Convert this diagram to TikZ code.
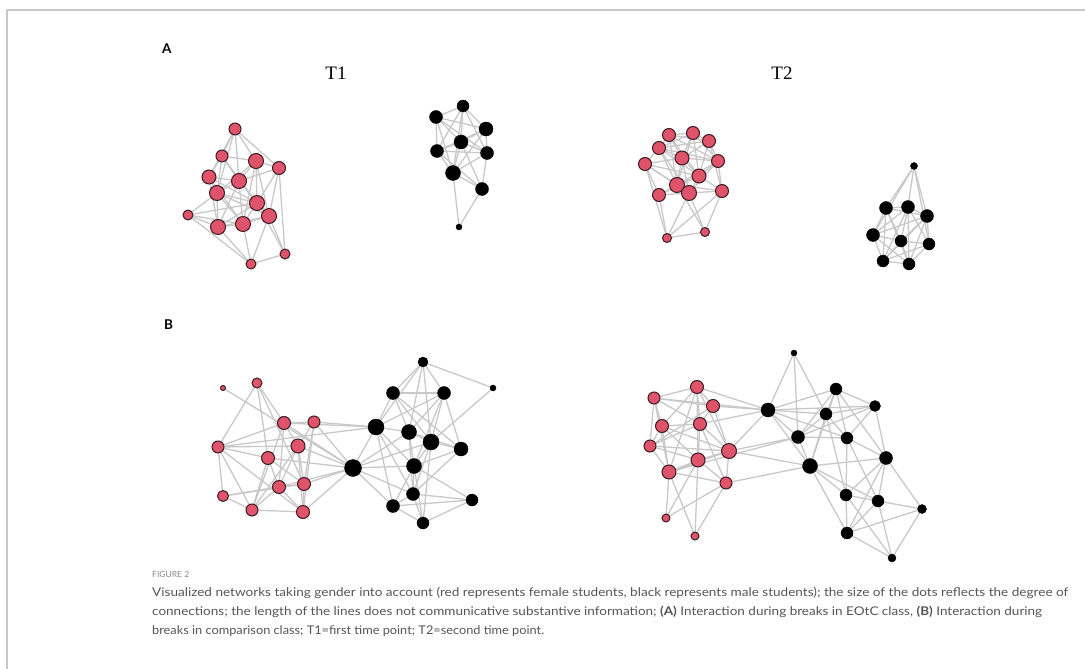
\documentclass[tikz,border=0pt]{standalone}
\usepackage{fontspec}
\setmainfont{Liberation Serif}
\newfontfamily\capfont{Lato}
\usetikzlibrary{backgrounds}
\definecolor{femred}{HTML}{DF536B}
\definecolor{femrim}{HTML}{3A1C22}
\definecolor{linkgray}{HTML}{C8C8C8}
\definecolor{framegray}{HTML}{C8C8C8}
\definecolor{captext}{HTML}{555555}
\definecolor{caphead}{HTML}{8A8A8A}
\tikzset{
  fem/.style={circle, fill=femred, draw=femrim, line width=1pt, inner sep=0pt},
  mal/.style={circle, fill=black, draw=black, line width=0.4pt, inner sep=0pt},
  link/.style={draw=linkgray, line width=1.3pt},
  panel/.style={font=\capfont\bfseries\fontsize{13.5}{16}\selectfont, anchor=base west, inner sep=0pt},
  stamp/.style={font=\fontsize{19}{22}\selectfont, anchor=base, inner sep=0pt},
  capline/.style={anchor=base west, inner sep=0pt, text=captext, font=\capfont\fontsize{12}{14}\selectfont},
  caphd/.style={anchor=base west, inner sep=0pt, text=caphead, font=\capfont\fontsize{8.5}{10}\selectfont}
}
\begin{document}
\begin{tikzpicture}[x=1pt,y=-1pt]
\useasboundingbox (0,0) rectangle (1085,669);
% frame
\draw[framegray, line width=1.2pt] (7,669) -- (7,10) -- (1085,10);

% ---------- panel A, T1 ----------
\foreach \n/\x/\y/\d in {a1/235/129/12, a2/222/156/12, a3/256/161/15, a4/279/168/13, a5/209/177/14,
  a6/239/181/15, a7/217/193/15, a8/257/203/15, a9/188/215/10, a10/269/216/15, a11/218/227/15,
  a12/243/224/15, a13/285/254/10, a14/251/264/10}
  \node[fem, minimum size=\d pt] (\n) at (\x,\y) {};
\foreach \n/\x/\y/\d in {b1/463/106/12, b2/436/117/13, b3/486/129/14, b4/461/142/14, b5/437/151/13,
  b6/487/153/13, b7/453/173/15, b8/482/189/13, b9/459/227/6}
  \node[mal, minimum size=\d pt] (\n) at (\x,\y) {};

% ---------- panel A, T2 ----------
\foreach \n/\x/\y/\d in {c1/669/135/13, c2/693/133/13, c3/709/141/13, c4/659/148/13, c5/682/158/14,
  c6/718/161/13, c7/645/164/13, c8/699/176/14, c9/677/185/15, c10/659/195/13, c11/689/193/15,
  c12/722/191/13, c13/667/238/9, c14/705/232/9}
  \node[fem, minimum size=\d pt] (\n) at (\x,\y) {};
\foreach \n/\x/\y/\d in {d1/914/166/7, d2/886/208/13, d3/908/207/13, d4/927/216/13, d5/873/235/13,
  d6/901/241/12, d7/929/244/12, d8/883/261/12, d9/909/264/12}
  \node[mal, minimum size=\d pt] (\n) at (\x,\y) {};

% ---------- panel B, left ----------
\foreach \n/\x/\y/\d in {e1/223/388/5, e2/257/383/10, e3/284/423/13, e4/314/422/12, e5/218/447/12,
  e6/298/446/14, e7/268/458/13, e8/279/487/13, e9/304/484/13, e10/223/496/11, e11/252/510/12,
  e12/303/512/13}
  \node[fem, minimum size=\d pt] (\n) at (\x,\y) {};
\foreach \n/\x/\y/\d in {f1/423/362/10, f2/493/388/6, f3/393/393/13, f4/444/393/13, f5/376/427/16,
  f6/409/432/15, f7/431/442/16, f8/461/449/14, f9/353/468/17, f10/414/466/15, f11/413/494/13,
  f12/472/500/12, f13/393/506/13, f14/423/523/12}
  \node[mal, minimum size=\d pt] (\n) at (\x,\y) {};

% ---------- panel B, right ----------
\foreach \n/\x/\y/\d in {g1/697/387/13, g2/654/398/12, g3/713/406/13, g4/662/426/13, g5/700/424/13,
  g6/650/446/12, g7/729/451/15, g8/698/460/14, g9/669/472/14, g10/726/483/12, g11/666/518/8,
  g12/695/536/8}
  \node[fem, minimum size=\d pt] (\n) at (\x,\y) {};
\foreach \n/\x/\y/\d in {h1/794/353/6, h2/768/410/14, h3/836/389/12, h4/875/406/11, h5/826/414/12,
  h6/798/437/13, h7/847/438/12, h8/886/458/13, h9/810/466/15, h10/846/495/12, h11/878/501/12,
  h12/922/509/9, h13/847/533/12, h14/892/558/8}
  \node[mal, minimum size=\d pt] (\n) at (\x,\y) {};

% ---------- ties ----------
\begin{pgfonlayer}{background}
\foreach \u/\v in {a1/a2, a1/a3, a1/a5, a1/a6, a1/a4, a1/a7, a2/a3, a2/a5, a2/a6, a2/a7, a2/a8,
  a3/a4, a3/a6, a3/a7, a3/a8, a3/a10, a3/a12, a4/a8, a4/a10, a4/a13, a4/a6, a5/a6, a5/a7,
  a5/a8, a5/a11, a5/a12, a6/a7, a6/a8, a6/a10, a6/a12, a6/a11, a7/a8, a7/a10, a7/a11, a7/a12,
  a7/a9, a8/a10, a8/a11, a8/a12, a8/a13, a8/a9, a9/a11, a9/a14, a9/a12, a10/a12, a10/a13,
  a10/a14, a10/a11, a11/a12, a11/a14, a12/a14, a13/a14}
  \draw[link] (\u) -- (\v);
\foreach \u/\v in {b1/b2, b1/b3, b1/b4, b1/b5, b1/b6, b1/b7, b2/b3, b2/b4, b2/b5, b2/b6, b2/b7,
  b3/b4, b3/b5, b3/b6, b3/b7, b4/b5, b4/b6, b4/b7, b4/b8, b5/b6, b5/b7, b5/b8, b6/b7, b6/b8,
  b7/b8, b7/b9, b8/b9}
  \draw[link] (\u) -- (\v);
\foreach \u/\v in {c1/c2, c1/c3, c1/c4, c1/c5, c1/c8, c1/c9, c1/c6, c2/c3, c2/c4, c2/c5, c2/c6,
  c2/c8, c2/c9, c3/c4, c3/c5, c3/c6, c3/c8, c3/c12, c4/c5, c4/c6, c4/c7, c4/c8, c4/c9, c4/c11,
  c5/c6, c5/c7, c5/c8, c5/c9, c5/c11, c6/c8, c6/c9, c6/c11, c6/c12, c7/c8, c7/c9, c7/c10,
  c7/c11, c7/c13, c8/c9, c8/c10, c8/c11, c8/c12, c9/c10, c9/c11, c9/c12, c9/c14, c10/c11,
  c10/c13, c11/c12, c11/c13, c11/c14, c12/c13, c12/c14, c13/c14}
  \draw[link] (\u) -- (\v);
\foreach \u/\v in {d1/d2, d1/d3, d1/d4, d1/d5, d1/d7, d2/d3, d2/d4, d2/d5, d2/d6, d2/d8, d2/d9,
  d3/d4, d3/d5, d3/d6, d3/d7, d3/d8, d3/d9, d4/d5, d4/d6, d4/d7, d4/d8, d4/d9, d5/d6, d5/d8,
  d5/d9, d6/d7, d6/d8, d6/d9, d7/d8, d7/d9, d8/d9}
  \draw[link] (\u) -- (\v);
\foreach \u/\v in {e1/f9, e2/e3, e2/e5, e2/e7, e2/e9, e3/e4, e3/e5, e3/e6, e3/e8, e3/e11,
  e4/e6, e4/e9, e4/e12, e5/e6, e5/e7, e5/e10, e5/e11, e5/e12, e6/e8, e6/e9, e6/e11, e6/e12,
  e7/e8, e7/e9, e7/e11, e8/e9, e8/e11, e8/e12, e9/e12, e10/e8, e10/e9, e10/e11, e11/e12,
  e3/f9, e6/f9, e7/f9, e8/f9, e9/f9, e12/f9, e4/f5, e3/f5, e5/f5, e4/f9}
  \draw[link] (\u) -- (\v);
\foreach \u/\v in {f1/f2, f1/f3, f1/f4, f1/f5, f1/f6, f1/f7, f2/f7, f3/f4, f3/f5, f3/f6, f3/f7,
  f3/f8, f4/f5, f4/f6, f4/f7, f4/f8, f4/f10, f5/f6, f5/f9, f5/f10, f5/f11, f5/f13, f6/f7,
  f6/f8, f6/f9, f6/f10, f6/f11, f7/f8, f7/f9, f7/f10, f7/f11, f7/f14, f8/f10, f8/f11, f9/f10,
  f9/f11, f9/f13, f10/f11, f10/f12, f10/f13, f10/f14, f11/f12, f11/f13, f11/f14, f12/f13,
  f12/f14, f13/f14}
  \draw[link] (\u) -- (\v);
\foreach \u/\v in {g1/g2, g1/g3, g1/g4, g1/g5, g1/g7, g1/g8, g1/g9, g2/g3, g2/g4, g2/g5, g2/g6,
  g2/g9, g3/g5, g3/g6, g3/g7, g4/g5, g4/g6, g4/g7, g4/g8, g4/g9, g5/g6, g5/g7, g5/g8, g5/g10,
  g6/g7, g6/g8, g6/g9, g7/g8, g7/g9, g7/g10, g8/g9, g8/g10, g8/g11, g8/g12, g9/g10, g9/g11,
  g9/g12, g10/g11, g10/g12, g1/h2, g2/h2, g3/h2, g5/h2, g7/h2, g7/h6, g7/h9, g10/h9, g9/h6}
  \draw[link] (\u) -- (\v);
\foreach \u/\v in {h1/h2, h1/h5, h1/h6, h2/h3, h2/h4, h2/h5, h2/h6, h2/h7, h2/h9, h3/h4, h3/h5,
  h3/h6, h3/h7, h3/h8, h3/h9, h4/h5, h4/h6, h4/h7, h4/h8, h5/h6, h5/h7, h5/h9, h5/h10, h6/h7,
  h6/h9, h7/h8, h7/h10, h7/h11, h8/h9, h8/h10, h8/h11, h8/h12, h8/h13, h9/h10, h9/h11, h9/h13,
  h10/h11, h10/h13, h10/h14, h11/h12, h11/h13, h11/h14, h12/h13, h12/h14, h13/h14}
  \draw[link] (\u) -- (\v);
\end{pgfonlayer}

% ---------- labels ----------
\node[panel] (labA) at (162,54) {A};
\node[panel] (labB) at (164,329) {B};
\node[stamp] (t1) at (336,80) {T1};
\node[stamp] (t2) at (782,80) {T2};

% ---------- caption ----------
\node[caphd] (fig) at (152,577) {FIGURE 2};
\node[capline] (cap1) at (152,596) {\resizebox{916pt}{\height}{Visualized networks taking gender into account (red represents female students, black represents male students); the size of the dots reflects the degree of}};
\node[capline] (cap2) at (152,615) {\resizebox{890pt}{\height}{connections; the length of the lines does not communicative substantive information; \textbf{(A)} Interaction during breaks in EOtC class, \textbf{(B)} Interaction during}};
\node[capline] (cap3) at (152,634) {\resizebox{392pt}{\height}{breaks in comparison class; T1=first time point; T2=second time point.}};
\end{tikzpicture}
\end{document}
